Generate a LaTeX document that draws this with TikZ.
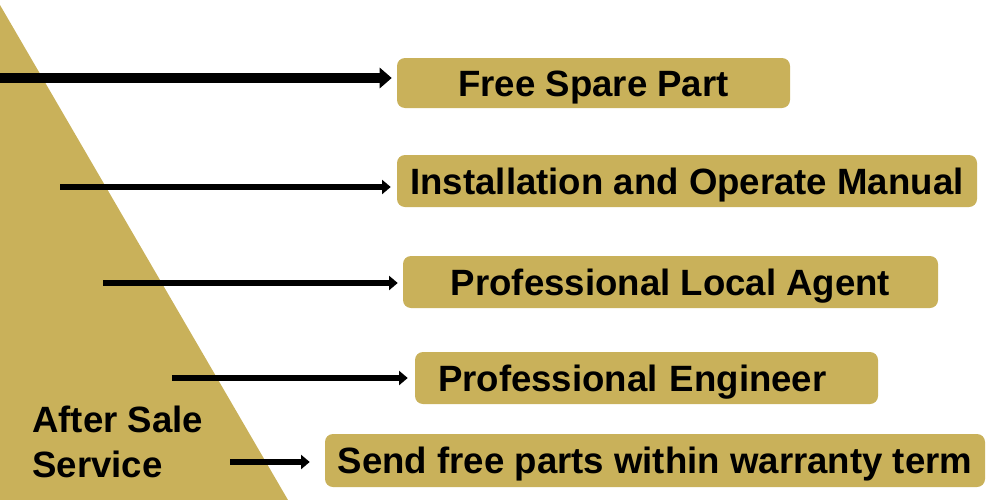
\documentclass[tikz,border=0pt]{standalone}
\usepackage{fontspec}
\setmainfont{Liberation Sans}
\usetikzlibrary{arrows.meta}
\definecolor{gold}{RGB}{201,177,90}
\begin{document}
\begin{tikzpicture}[x=0.75pt,y=-0.75pt,
  box/.style={fill=gold, rounded corners=6pt, inner sep=0pt, text height=19.6pt, text depth=0pt,
    font=\fontsize{27.45}{30}\selectfont\bfseries},
  arrbig/.style={line width=7.5pt, -{Triangle[length=9pt,width=15pt]}},
  arrsmall/.style={line width=4.5pt, -{Triangle[length=6.5pt,width=10.5pt]}},
  lbl/.style={font=\fontsize{27.45}{33.75}\selectfont\bfseries, inner sep=0pt, align=left}]
\useasboundingbox (0,0) rectangle (1000,500);
\fill[gold] (0,5) -- (288,500) -- (0,500) -- cycle;
\node[box, minimum width=294.75pt, minimum height=37.5pt] (b1) at (593.5,83) {Free Spare Part};
\node[box, minimum width=435pt, minimum height=39pt] (b2) at (687,181) {Installation and Operate Manual};
\node[box, minimum width=401.25pt, minimum height=39pt] (b3) at (670.5,282) {Professional Local Agent};
\node[box, minimum width=347.25pt, minimum height=39pt, text width=312.75pt, align=left, inner xsep=17.25pt] (b4) at (646.5,378) {Professional Engineer};
\node[box, minimum width=495pt, minimum height=39.75pt] (b5) at (655,460.5) {Send free parts within warranty term};
\node[lbl, anchor=base west] (as) at (32,477) {After Sale\\Service};
\coordinate (s1) at (-5,78);
\coordinate (s2) at (60,187);
\coordinate (s3) at (103,283);
\coordinate (s4) at (172,378);
\coordinate (s5) at (230,462);
\draw[arrbig, shorten >=3.75pt] (s1) -- (s1 -| b1.west);
\draw[arrsmall, shorten >=4.5pt] (s2) -- (s2 -| b2.west);
\draw[arrsmall, shorten >=3.75pt] (s3) -- (s3 -| b3.west);
\draw[arrsmall, shorten >=5.25pt] (s4) -- (s4 -| b4.west);
\draw[arrsmall, shorten >=11.25pt] (s5) -- (s5 -| b5.west);
\end{tikzpicture}
\end{document}
